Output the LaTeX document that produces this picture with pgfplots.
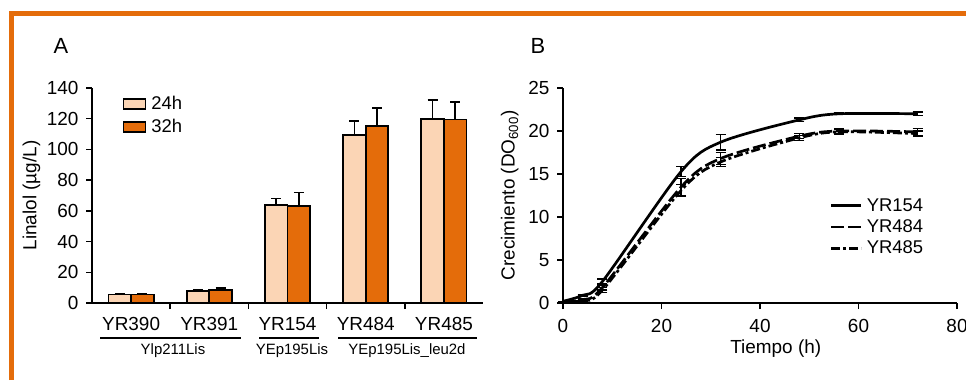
\documentclass[border=0pt]{standalone}
\usepackage{pgfplots}
\pgfplotsset{compat=1.18}
\usepackage{fontspec}
\setmainfont{Liberation Sans}
\definecolor{peach}{HTML}{FBD5B5}
\definecolor{dorange}{HTML}{E46C0A}
\pgfplotsset{
  common/.style={
    scale only axis,
    axis lines=left,
    axis line style={-, line width=1.6bp, black},
    tick align=outside,
    major tick length=6bp,
    tick style={line width=1.5bp, black},
    /pgf/number format/assume math mode=true,
    tick label style={font=\fontsize{19}{21}\selectfont},
    yticklabel style={xshift=-4bp},
    xticklabel style={yshift=-5bp},
    label style={font=\fontsize{19}{21}\selectfont},
    legend style={draw=none, fill=none, font=\fontsize{18.5}{20}\selectfont},
  }
}
\pgfplotstableread{
x  a24  e24  a32  e32
0  5.5  0.5  5.5  0.5
1  8.0  0.5  8.7  0.9
2  64.0 4.0  63.0 9.0
3  109.5 9.0 115.0 12.0
4  120.0 12.0 119.5 11.5
}\linalol
\begin{document}
\begin{tikzpicture}[x=1bp,y=1bp]
\useasboundingbox (0,0) rectangle (966,380);
\draw[dorange, line width=4.5bp] (11.3,0) -- (11.3,366.7) -- (966,366.7);
% Panel A
\begin{axis}[common,
  at={(92bp,77bp)}, anchor=south west,
  width=391bp, height=215bp,
  xmin=-0.5, xmax=4.5, ymin=0, ymax=140,
  ytick={0,20,...,140},
  xtick={0,1,2,3,4},
  xticklabels={YR390,YR391,YR154,YR484,YR485},
  major x tick style={draw=none},
  minor xtick={0.5,1.5,2.5,3.5},
  minor tick length=6bp,
  minor x tick style={draw=black, line width=1.5bp},
  ybar=0pt, bar width=0.29,
  ylabel={Linalol (µg/L)},
  ylabel style={at={(axis description cs:-0.155,0.5)}, anchor=center},
  legend image code/.code={\draw[#1, line width=1.8bp] (0bp,-5bp) rectangle (22bp,5bp);},
  legend style={at={(axis description cs:0.07,0.98)}, anchor=north west, row sep=4bp,
    nodes={inner xsep=5bp}},
  clip=false,
]
\addplot+[fill=peach, draw=black, line width=1.8bp,
  error bars/.cd, y dir=plus, y explicit,
  error bar style={line width=1.6bp, black},
  error mark options={rotate=90, mark size=5bp, line width=1.6bp, black}]
  table[x=x, y=a24, y error=e24] {\linalol};
\addplot+[fill=dorange, draw=black, line width=1.8bp,
  error bars/.cd, y dir=plus, y explicit,
  error bar style={line width=1.6bp, black},
  error mark options={rotate=90, mark size=5bp, line width=1.6bp, black}]
  table[x=x, y=a32, y error=e32] {\linalol};
\legend{24h,32h}
\end{axis}
\draw[line width=2.6bp] (100,42) -- (241,42);
\draw[line width=2.6bp] (259,42) -- (319,42);
\draw[line width=2.6bp] (338,42) -- (477,42);
\node[font=\fontsize{15}{17}\selectfont] at (173,29) {Ylp211Lis};
\node[font=\fontsize{15}{17}\selectfont] at (292,29) {YEp195Lis};
\node[font=\fontsize{15}{17}\selectfont] at (407,29) {YEp195Lis\_leu2d};
\node[font=\fontsize{22}{24}\selectfont] at (61,334) {A};
\node[font=\fontsize{22}{24}\selectfont] at (538,334) {B};
% Panel B
\begin{axis}[common,
  at={(563bp,77bp)}, anchor=south west,
  width=394bp, height=215bp,
  xmin=0, xmax=80, ymin=0, ymax=25,
  xtick={0,20,...,80}, ytick={0,5,...,25},
  xticklabel style={yshift=-2bp},
  xlabel={Tiempo (h)},
  xlabel style={at={(axis description cs:0.54,-0.21)}, anchor=center},
  ylabel={Crecimiento (DO\textsubscript{600})},
  ylabel style={at={(axis description cs:-0.135,0.5)}, anchor=center},
  legend image code/.code={\draw[#1, line width=2.6bp] (0bp,0bp) -- (30bp,0bp);},
  legend style={at={(axis description cs:0.67,0.505)}, anchor=north west, row sep=3bp,
    nodes={inner xsep=4bp}},
  clip=false,
]
\addplot[black, line width=2.7bp, smooth, tension=0.5,
  error bars/.cd, y dir=both, y explicit,
  error bar style={line width=1.5bp, black, solid},
  error mark options={rotate=90, mark size=5bp, line width=1.5bp, black, solid}]
  coordinates {(0,0.2) +- (0,0) (4,0.9) +- (0,0.1) (8,2.5) +- (0,0.3) (24,15.3) +- (0,0.6)
   (32,18.7) +- (0,0.9) (48,21.3) +- (0,0.2) (56,22.0) +- (0,0.1) (72,22.0) +- (0,0.2)};
\addplot[black, line width=2.7bp, smooth, tension=0.5, dash pattern=on 13bp off 4bp,
  error bars/.cd, y dir=both, y explicit,
  error bar style={line width=1.5bp, black, solid},
  error mark options={rotate=90, mark size=5bp, line width=1.5bp, black, solid}]
  coordinates {(0,0.1) +- (0,0) (4,0.4) +- (0,0.1) (8,1.8) +- (0,0.3) (24,13.5) +- (0,1.0)
   (32,16.8) +- (0,0.7) (48,19.4) +- (0,0.3) (56,20.0) +- (0,0.3) (72,19.9) +- (0,0.4)};
\addplot[black, line width=2.7bp, smooth, tension=0.5, dash pattern=on 9bp off 3bp on 3bp off 3bp,
  error bars/.cd, y dir=both, y explicit,
  error bar style={line width=1.5bp, black, solid},
  error mark options={rotate=90, mark size=5bp, line width=1.5bp, black, solid}]
  coordinates {(0,0.1) +- (0,0) (4,0.3) +- (0,0.1) (8,1.5) +- (0,0.3) (24,13.1) +- (0,0.7)
   (32,16.4) +- (0,0.5) (48,19.2) +- (0,0.3) (56,19.9) +- (0,0.3) (72,19.7) +- (0,0.3)};
\legend{YR154,YR484,YR485}
\end{axis}
\end{tikzpicture}
\end{document}
